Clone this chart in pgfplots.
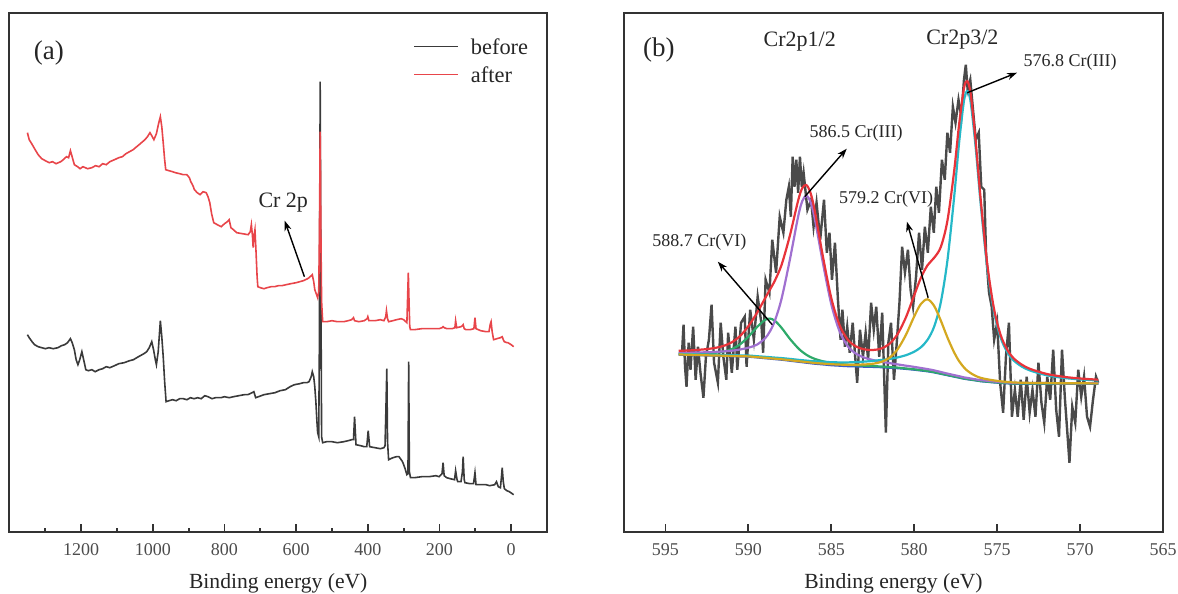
\documentclass[border=0pt]{standalone}
\usepackage{fontspec}
\setmainfont{Liberation Serif}
\usepackage{pgfplots}
\pgfplotsset{compat=1.18}
\usepackage{pgfplotstable}
\usetikzlibrary{arrows.meta}

\definecolor{cBefore}{HTML}{3A3A3A}
\definecolor{cAfter}{HTML}{E8454A}
\definecolor{cRaw}{HTML}{4A4A4A}
\definecolor{cEnv}{HTML}{E8333A}
\definecolor{cPur}{HTML}{A070D0}
\definecolor{cGrn}{HTML}{2EAA6A}
\definecolor{cGold}{HTML}{D4A820}
\definecolor{cCyan}{HTML}{25B8C8}
\definecolor{cBlue}{HTML}{3A5BC8}

% survey spectra (binding energy, intensity in arbitrary units)
\pgfplotstableread{
E I
1350 399
1345 392
1338 388
1330 383
1320 377
1310 373
1300 371
1289 369
1280 370
1270 368
1257 370
1250 372
1241 375
1235 374
1230 381
1226 376
1219 367
1210 365
1203 363
1195 365
1182 363
1170 364
1160 366
1150 365
1140 368
1130 367
1120 370
1107 372
1095 374
1085 375
1075 378
1065 380
1055 382
1045 385
1035 388
1022 392
1015 395
1008 399
1003 396
997 392
990 398
984 408
979 415
975 405
971 389
967 372
964 362
955 361
945 360
937 359
925 358
915 357
905 357
898 354
894 350
888 346
884 342
876 339
868 337
860 340
851 339
846 335
841 329
836 318
830 309
820 307
809 305
800 308
792 310
787 312
782 304
775 302
766 299
750 298
734 297
728 300
725 307
722 296
720 284
718 295
715 302
712 280
709 255
707 245
700 244
690 243
681 244
670 245
660 245
650 246
640 246
628 247
615 248
600 249
590 250
580 251
574 252
568 253
564 254
558 256
555 257
551 250
548 242
544 238
540 234
537 240
535 300
533 400
531 300
529 230
526 210
515 210
500 211
485 210
467 210
455 211
445 212
440 214
437 211
425 210
410 211
402 213
400 215
397 211
380 211
365 212
355 211
350 215
348 221
345 213
342 210
330 211
320 212
307 213
300 212
291 209
287 259
285 230
283 205
281 202
270 202
250 203
230 203
210 203
201 203
193 204
190 205
187 204
179 203
165 203
157 204
155 211
152 204
140 205
136 206
134 207
131 203
126 202
115 202
104 203
101 214
98 203
85 201
70 200
62 200
58 208
56 210
53 200
49 192
40 193
30 194
25 195
22 192
19 190
12 189
9 189
0 187
-7 185
}\afterdata

\pgfplotstableread{
E I
1350 197
1345 194
1337 190
1330 187
1320 185
1310 184
1300 183
1290 184
1278 183
1265 184
1255 186
1246 187
1238 189
1230 193
1225 189
1219 182
1214 172
1209 167
1204 172
1198 180
1193 172
1187 162
1180 161
1170 162
1161 160
1150 162
1140 163
1130 165
1120 164
1107 166
1095 168
1080 169
1065 171
1054 172
1045 174
1035 176
1025 178
1017 180
1010 184
1003 190
998 182
993 172
990 167
985 180
979 211
975 195
971 175
967 150
963 130
955 131
945 132
935 131
925 133
915 133
905 132
895 134
885 133
875 134
865 133
855 136
846 135
835 133
825 134
810 134
800 135
787 134
775 135
760 136
745 137
735 137
723 139
718 140
713 134
705 135
690 137
675 138
659 139
645 141
630 142
617 145
605 147
590 148
580 149
570 149
564 150
558 155
555 160
551 155
548 145
545 130
542 110
540 99
537 95
535 200
533 450
531 250
529 95
526 89
515 90
500 90
485 89
467 90
455 91
445 92
440 92
437 115
433 87
420 86
410 85
403 85
399 101
395 85
380 84
365 83
355 84
352 86
350 115
347 163
345 90
342 72
330 74
320 75
313 75
305 71
302 69
296 63
291 57
288 58
286 170
284 60
281 54
270 54
250 55
230 55
210 56
201 55
193 58
190 69
187 56
180 54
170 53
158 52
155 61
151 52
149 50
140 50
136 60
134 75
131 52
129 49
115 48
105 48
101 59
98 47
85 47
70 47
60 46
46 47
41 50
36 45
30 44
27 55
25 64
22 50
19 43
12 41
5 40
-7 37
}\beforedata

% Cr 2p raw counts
\pgfplotstableread{
E I
594.00 179
593.91 207
593.82 165
593.73 145
593.60 189
593.49 162
593.33 205
593.18 152
593.04 185
592.89 159
592.71 134
592.56 175
592.38 192
592.22 227
592.07 169
591.84 149
591.67 209
591.51 175
591.33 152
591.22 199
591.00 159
590.78 205
590.67 162
590.44 209
590.22 215
590.11 165
589.89 222
589.67 192
589.44 235
589.22 209
589.11 179
588.96 252
588.73 239
588.56 292
588.33 259
588.11 315
587.89 299
587.71 332
587.56 345
587.44 315
587.33 375
587.22 345
587.11 372
587.00 339
586.89 375
586.78 345
586.67 359
586.44 322
586.22 332
586.07 305
585.89 329
585.67 292
585.44 332
585.27 279
585.11 299
584.96 252
584.78 289
584.60 232
584.44 192
584.33 222
584.18 185
584.04 205
583.89 179
583.71 209
583.56 175
583.44 149
583.27 202
583.09 175
582.93 199
582.78 172
582.60 229
582.44 202
582.29 225
582.11 175
581.93 219
581.82 159
581.71 99
581.56 189
581.40 209
581.22 152
581.04 192
580.89 229
580.73 285
580.56 259
580.38 282
580.22 242
580.07 225
579.89 255
579.71 299
579.53 262
579.36 305
579.18 279
579.00 325
578.82 299
578.67 345
578.51 319
578.33 372
578.16 352
578.00 399
577.84 379
577.67 425
577.51 409
577.33 432
577.16 415
577.00 452
576.89 467
576.78 442
576.62 452
576.44 419
576.29 392
576.11 399
575.96 345
575.78 342
575.67 279
575.49 239
575.33 225
575.18 192
575.00 209
574.82 149
574.64 119
574.47 175
574.29 209
574.11 115
573.93 142
573.76 115
573.58 152
573.40 112
573.22 155
573.04 119
572.87 142
572.69 115
572.51 169
572.33 129
572.16 109
571.98 155
571.80 132
571.62 182
571.44 122
571.27 95
571.09 182
570.91 132
570.78 102
570.64 69
570.47 125
570.29 109
570.11 162
569.93 135
569.76 155
569.58 115
569.40 105
569.22 132
569.04 155
568.91 149
}\rawdata

% fitted components (each drawn on the background) and envelope
\pgfplotstableread{
E bg cy ye pu gr env
594.2 177.0 177.7 177.2 179.0 178.1 180.9
593.5 176.7 177.4 176.9 179.1 178.1 181.3
593.0 176.5 177.3 176.7 179.3 178.2 181.9
592.5 176.2 177.0 176.4 179.4 178.4 182.6
592.0 176.0 176.9 176.2 179.8 178.9 183.8
591.5 175.8 176.7 176.0 180.3 180.1 185.8
591.0 175.5 176.5 175.7 181.0 182.6 189.4
590.5 175.3 176.3 175.5 182.2 187.4 195.7
590.0 175.0 176.2 175.3 184.0 195.0 205.5
589.5 174.3 175.5 174.6 186.9 204.2 218.3
589.0 173.5 174.9 173.9 193.3 211.8 233.2
588.7 173.1 174.5 173.4 200.3 213.1 242.1
588.4 172.6 174.1 173.0 211.1 210.9 251.2
588.0 172.0 173.6 172.4 232.9 203.9 266.8
587.5 171.0 172.8 171.5 271.9 192.9 296.0
587.0 170.0 171.9 170.5 315.2 183.5 331.2
586.75 169.5 171.5 170.1 330.6 179.9 343.6
586.5 169.0 171.1 169.6 336.0 176.9 346.7
586.25 168.5 170.7 169.2 329.6 174.6 338.6
586.0 168.0 170.4 168.7 313.2 172.8 321.0
585.5 167.3 169.9 168.1 268.2 170.4 274.7
585.0 166.5 169.5 167.5 227.4 168.8 233.5
584.5 166.0 169.3 167.1 200.3 167.8 206.5
584.0 165.5 169.3 166.9 185.3 166.9 191.9
583.5 165.3 169.6 167.0 177.9 166.4 185.1
583.0 165.0 170.1 167.2 174.0 166.0 182.3
582.5 164.8 170.8 167.9 171.7 165.6 181.7
582.0 164.5 171.7 169.7 170.0 165.2 183.1
581.5 164.0 172.7 173.8 168.6 164.6 187.7
581.0 163.5 174.3 182.5 167.3 164.1 197.7
580.5 162.8 176.5 196.9 166.0 163.2 214.4
580.0 162.0 180.0 215.3 164.8 162.4 236.5
579.6 161.2 184.4 227.7 163.7 161.6 253.8
579.2 160.4 191.8 232.4 162.6 160.8 266.4
578.8 159.3 205.0 225.8 161.3 159.6 273.9
578.4 157.9 229.2 211.2 159.7 158.2 284.6
578.0 156.5 271.0 194.3 158.1 156.8 310.8
577.6 155.1 333.5 179.5 156.6 155.4 359.6
577.3 154.1 388.0 170.7 155.5 154.3 406.3
577.0 153.0 430.9 164.2 154.3 153.2 443.6
576.8 152.5 440.5 161.0 153.8 152.7 450.5
576.6 152.0 429.9 158.6 153.2 152.2 437.9
576.3 151.3 385.2 155.8 152.4 151.5 391.1
576.0 150.5 328.9 153.9 151.6 150.7 333.6
575.6 149.9 264.4 152.4 150.9 150.1 268.1
575.2 149.3 220.6 151.3 150.2 149.5 223.7
574.8 148.8 194.5 150.4 149.7 149.0 197.2
574.4 148.4 179.8 149.8 149.2 148.6 182.2
574.0 148.0 171.2 149.2 148.8 148.2 173.3
573.5 148.0 165.0 149.0 148.7 148.2 166.9
573.0 148.0 161.1 148.8 148.7 148.1 162.7
572.0 148.0 156.4 148.6 148.6 148.1 157.7
571.0 148.0 153.8 148.5 148.5 148.1 154.9
570.0 148.0 152.3 148.4 148.4 148.1 153.2
568.9 148.0 151.2 148.3 148.4 148.1 152.0
}\fitdata

\pgfplotsset{xpsframe/.style={
  scale only axis, anchor=south west, height=259.5pt,
  ymin=0, ymax=519, ytick=\empty, x dir=reverse,
  xtick pos=left, tick align=inside,
  major tick length=3.8pt, minor tick length=1.8pt,
  axis line style={line width=1pt, draw=black!80},
  every tick/.append style={line width=0.9pt, black!80},
  /pgf/number format/1000 sep={},
  /pgf/number format/assume math mode=true,
  xticklabel style={font=\fontsize{9}{10}\selectfont, text=black!70, anchor=base, yshift=-11.65pt},
  xlabel={Binding energy (eV)},
  xlabel style={font=\fontsize{10.8}{12}\selectfont, text=black!85,
    at={(axis description cs:0.5,0)}, anchor=base, yshift=-28.15pt},
}}

\begin{document}
\begin{tikzpicture}
\useasboundingbox (0,0) rectangle (589pt,297pt);

% (a) survey
\begin{axis}[xpsframe,
  at={(4.75pt,31.15pt)}, width=268.75pt,
  xmin=-100, xmax=1400,
  xtick={0,200,...,1200}, minor xtick={100,300,...,1300},
]
\addplot[cBefore, line width=0.8pt] table[x=E,y=I] {\beforedata};
\addplot[cAfter, line width=0.8pt] table[x=E,y=I] {\afterdata};
\draw[cBefore, line width=0.8pt] (270,485) -- (147,485);
\draw[cAfter, line width=0.8pt] (270,457) -- (147,457);
\node[anchor=west, font=\fontsize{11.2}{12}\selectfont, text=black!85] at (132,485) {before};
\node[anchor=west, font=\fontsize{11.2}{12}\selectfont, text=black!85] at (132,457) {after};
\node[font=\fontsize{13.5}{15}\selectfont, text=black!85] at (1290,479) {(a)};
\node[font=\fontsize{11}{12}\selectfont, text=black!85] at (636,329) {Cr 2p};
\draw[-{Stealth[length=5pt,width=3.5pt]}, line width=0.7pt] (577,255) -- (632,311);
\end{axis}

% (b) Cr 2p
\begin{axis}[xpsframe,
  at={(312pt,31.15pt)}, width=269.5pt,
  xmin=565, xmax=597.5,
  xtick={565,570,...,595},
]
\addplot[cRaw, line width=1.2pt] table[x=E,y=I] {\rawdata};
\addplot[cBlue, line width=1.1pt, smooth] table[x=E,y=bg] {\fitdata};
\addplot[cGrn, line width=1.1pt, smooth] table[x=E,y=gr] {\fitdata};
\addplot[cPur, line width=1.1pt, smooth] table[x=E,y=pu] {\fitdata};
\addplot[cCyan, line width=1.1pt, smooth] table[x=E,y=cy] {\fitdata};
\addplot[cGold, line width=1.1pt, smooth] table[x=E,y=ye] {\fitdata};
\addplot[cEnv, line width=1.1pt, smooth] table[x=E,y=env] {\fitdata};

\node[font=\fontsize{13.5}{15}\selectfont, text=black!85] at (595.4,482) {(b)};
\node[font=\fontsize{11}{12}\selectfont, text=black!85] at (586.9,490) {Cr2p1/2};
\node[font=\fontsize{11}{12}\selectfont, text=black!85] at (577.1,492) {Cr2p3/2};
\node[font=\fontsize{9}{10}\selectfont, text=black!85] at (570.6,470) {576.8 Cr(III)};
\node[font=\fontsize{9}{10}\selectfont, text=black!85] at (583.5,399) {586.5 Cr(III)};
\node[font=\fontsize{9}{10}\selectfont, text=black!85] at (581.7,333) {579.2 Cr(VI)};
\node[font=\fontsize{9}{10}\selectfont, text=black!85] at (592.96,290) {588.7 Cr(VI)};
\draw[-{Stealth[length=5pt,width=3.5pt]}, line width=0.7pt] (576.8,439) -- (573.8,459);
\draw[-{Stealth[length=5pt,width=3.5pt]}, line width=0.7pt] (586.6,335) -- (584.07,383);
\draw[-{Stealth[length=5pt,width=3.5pt]}, line width=0.7pt] (579.16,234) -- (580.44,310);
\draw[-{Stealth[length=5pt,width=3.5pt]}, line width=0.7pt] (588.56,207) -- (591.84,270);
\end{axis}
\end{tikzpicture}
\end{document}
